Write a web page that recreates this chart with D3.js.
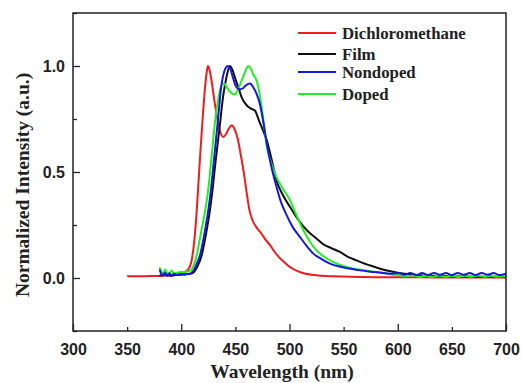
<!DOCTYPE html>
<html>
<head>
<meta charset="utf-8">
<script src="https://cdn.jsdelivr.net/npm/d3@7"></script>
<style>
  body { margin: 0; background: #fff; }
  svg { display: block; }
  .tick text { font-family: "Liberation Sans", Arial, sans-serif; font-weight: bold; font-size: 16px; fill: #222; }
  .title { font-family: "Liberation Serif", "Times New Roman", serif; font-weight: bold; font-size: 19.5px; fill: #222; }
  .leg { font-family: "Liberation Serif", "Times New Roman", serif; font-weight: bold; font-size: 16.8px; fill: #222; }
</style>
</head>
<body>
<svg class="chart"></svg>
<script>
// eixo x: comprimentos de onda com rótulo
const xTicks = [300, 350, 400, 450, 500, 550, 600, 650, 700];
const yTicks = [-0.25, 0, 0.25, 0.5, 0.75, 1.0, 1.25];

// Dichloromethane (vermelho)
const dcmWave = [350, 360, 370, 380, 390, 396, 400, 404, 407, 409.5, 411.5, 413.5, 415.8, 418, 420, 422, 423.5, 424.6, 426, 428, 430.5, 433, 436, 438.8, 441.5, 444, 446.6, 449, 452, 455, 458, 460.5, 463, 466, 470, 474, 478, 482, 486, 490, 495, 500, 510, 522, 540, 580, 620, 660, 700];
const dcmInt  = [0.008, 0.008, 0.009, 0.01, 0.013, 0.017, 0.022, 0.03, 0.045, 0.08, 0.15, 0.26, 0.44, 0.62, 0.77, 0.9, 0.97, 1.0, 0.985, 0.93, 0.84, 0.76, 0.69, 0.665, 0.68, 0.705, 0.72, 0.705, 0.66, 0.58, 0.49, 0.40, 0.32, 0.27, 0.235, 0.21, 0.18, 0.155, 0.125, 0.1, 0.075, 0.053, 0.027, 0.014, 0.008, 0.004, 0.003, 0.002, 0.002];

// Film (preto)
const filmWave = [380, 385, 390, 395, 400, 405, 410, 414, 418.9, 421.5, 424, 426.5, 429, 431.5, 434, 436, 438, 439.8, 441.5, 443.3, 445, 447, 450, 452.7, 456, 460.4, 464, 468, 472, 476, 479, 483, 488, 494, 500.5, 508, 516, 524, 531, 539, 546.6, 554, 562, 568, 574, 580, 590, 600, 610, 620, 640, 660, 680, 700];
const filmInt  = [0.012, 0.014, 0.012, 0.014, 0.016, 0.018, 0.022, 0.045, 0.107, 0.17, 0.24, 0.32, 0.42, 0.54, 0.65, 0.736, 0.83, 0.893, 0.94, 0.98, 1.0, 0.985, 0.94, 0.9, 0.85, 0.815, 0.8, 0.79, 0.74, 0.69, 0.65, 0.57, 0.46, 0.39, 0.335, 0.275, 0.225, 0.19, 0.16, 0.14, 0.123, 0.1, 0.083, 0.07, 0.06, 0.05, 0.035, 0.025, 0.018, 0.013, 0.009, 0.007, 0.006, 0.006];

// Nondoped (azul)
const nonWave = [380, 381.5, 383, 385, 387, 389, 391, 393, 396, 400, 404, 407, 409.6, 412, 414.5, 417.3, 420, 422.5, 425, 427.5, 430.5, 433.7, 435.3, 436.7, 438.5, 440.5, 442.9, 445, 447.5, 450, 453.7, 457, 460, 463.5, 466.5, 469.5, 472.7, 476, 479, 483, 488, 492, 497, 503, 509.7, 516, 522, 530, 537.4, 546, 556, 565, 574.4, 585, 595, 600.5, 606, 611.5, 617, 622.5, 628, 633.5, 639, 644.5, 650, 655.5, 661, 666.5, 672, 677.5, 683, 688.5, 694, 700];
const nonInt  = [0.04, 0.02, 0.012, 0.025, 0.01, 0.022, 0.008, 0.02, 0.014, 0.016, 0.018, 0.02, 0.025, 0.04, 0.07, 0.107, 0.17, 0.24, 0.32, 0.42, 0.57, 0.736, 0.82, 0.893, 0.95, 0.985, 1.0, 0.99, 0.95, 0.91, 0.89, 0.895, 0.91, 0.917, 0.9, 0.87, 0.82, 0.73, 0.634, 0.53, 0.43, 0.36, 0.30, 0.24, 0.193, 0.15, 0.115, 0.088, 0.068, 0.054, 0.044, 0.036, 0.03, 0.025, 0.02, 0.024, 0.015, 0.024, 0.014, 0.023, 0.014, 0.024, 0.015, 0.023, 0.014, 0.024, 0.015, 0.023, 0.014, 0.024, 0.015, 0.023, 0.014, 0.02];

// Doped (verde)
const dopWave = [380, 381.5, 383, 385, 387, 389, 391, 393, 396, 400, 404, 408.6, 411.5, 414.3, 417, 420, 422.5, 425, 428, 431.2, 434, 436.5, 438.3, 440, 442, 444, 447, 449.7, 452, 455, 458, 460.5, 462, 464, 466.5, 469.7, 473, 476, 479, 483, 488, 494, 500.5, 507, 512.8, 519, 525, 532, 540.5, 549, 559, 568, 574, 580, 588, 595, 602, 608, 614, 620, 626, 632, 638, 644, 650, 656, 662, 668, 674, 680, 686, 692, 700];
const dopInt  = [0.05, 0.03, 0.02, 0.04, 0.025, 0.02, 0.035, 0.022, 0.025, 0.028, 0.03, 0.035, 0.06, 0.107, 0.18, 0.26, 0.33, 0.42, 0.57, 0.736, 0.84, 0.9, 0.917, 0.915, 0.9, 0.885, 0.87, 0.866, 0.885, 0.92, 0.96, 0.99, 1.0, 0.99, 0.96, 0.93, 0.85, 0.74, 0.62, 0.545, 0.476, 0.42, 0.367, 0.29, 0.225, 0.17, 0.13, 0.1, 0.075, 0.058, 0.044, 0.038, 0.033, 0.028, 0.022, 0.017, 0.013, 0.008, 0.012, 0.006, 0.011, 0.006, 0.012, 0.006, 0.011, 0.005, 0.011, 0.006, 0.012, 0.006, 0.011, 0.006, 0.008];

const names  = ["Dichloromethane", "Film", "Nondoped", "Doped"];
const colors = ["#ee1c1c", "#111111", "#1818dd", "#22ee22"];

const series = [
  { wave: dcmWave, int: dcmInt },
  { wave: filmWave, int: filmInt },
  { wave: nonWave, int: nonInt },
  { wave: dopWave, int: dopInt }
];

const W = 522, H = 383;
const m = { left: 73, right: 16, top: 13, bottom: 52 };

const svg = d3.select('svg.chart')
  .attr('width', W)
  .attr('height', H);

const x = d3.scaleLinear().domain([300, 700]).range([m.left, W - m.right]);
const y = d3.scaleLinear().domain([-0.25, 1.25]).range([H - m.bottom, m.top]);

// eixo x, ticks para dentro (maiores a cada 100)
const gx = svg.append('g')
  .attr('transform', `translate(0,${H - m.bottom})`)
  .call(d3.axisBottom(x).tickValues(xTicks).tickSize(0).tickPadding(13).tickFormat(d3.format('d')));
gx.select('.domain').remove();
gx.selectAll('.tick line')
  .attr('y2', d => d % 100 == 0 ? -7 : -4)
  .attr('stroke', '#222').attr('stroke-width', 1.3);

// eixo y
const gy = svg.append('g')
  .attr('transform', `translate(${m.left},0)`)
  .call(d3.axisLeft(y).tickValues(yTicks).tickSize(0).tickPadding(8)
    .tickFormat(d => (d == 0 || d == 0.5 || d == 1) ? d3.format('.1f')(d) : ''));
gy.select('.domain').remove();
gy.selectAll('.tick line')
  .attr('x2', d => (d == 0 || d == 0.5 || d == 1) ? 7 : 4)
  .attr('stroke', '#222').attr('stroke-width', 1.3);

// linhas
const line = d3.line().curve(d3.curveMonotoneX);

const order = [0, 1, 3, 2];
order.forEach(i => {
  const s = series[i];
  const pts = s.wave.map((w, k) => [x(w), y(s.int[k])]);
  svg.append('path')
    .attr('d', line(pts))
    .attr('fill', 'none')
    .attr('stroke', colors[i])
    .attr('stroke-width', 2)
    .attr('stroke-linejoin', 'round');
});

// moldura
svg.append('rect')
  .attr('x', m.left).attr('y', m.top)
  .attr('width', W - m.right - m.left)
  .attr('height', H - m.bottom - m.top)
  .attr('fill', 'none').attr('stroke', '#222').attr('stroke-width', 1.5);

// legenda
const legY = [33, 54, 72, 94];
names.forEach((n, i) => {
  svg.append('line')
    .attr('x1', 298).attr('x2', 336)
    .attr('y1', legY[i]).attr('y2', legY[i])
    .attr('stroke', colors[i]).attr('stroke-width', 2);
  svg.append('text')
    .attr('class', 'leg')
    .attr('x', 342).attr('y', legY[i] + 5.5)
    .text(n);
});

// títulos
svg.append('text')
  .attr('class', 'title')
  .attr('x', 282)
  .attr('y', 378)
  .attr('text-anchor', 'middle')
  .text('Wavelength (nm)');

svg.append('text')
  .attr('class', 'title')
  .attr('transform', `translate(29,${185}) rotate(-90)`)
  .attr('text-anchor', 'middle')
  .text('Normalized Intensity (a.u.)');
</script>
</body>
</html>
